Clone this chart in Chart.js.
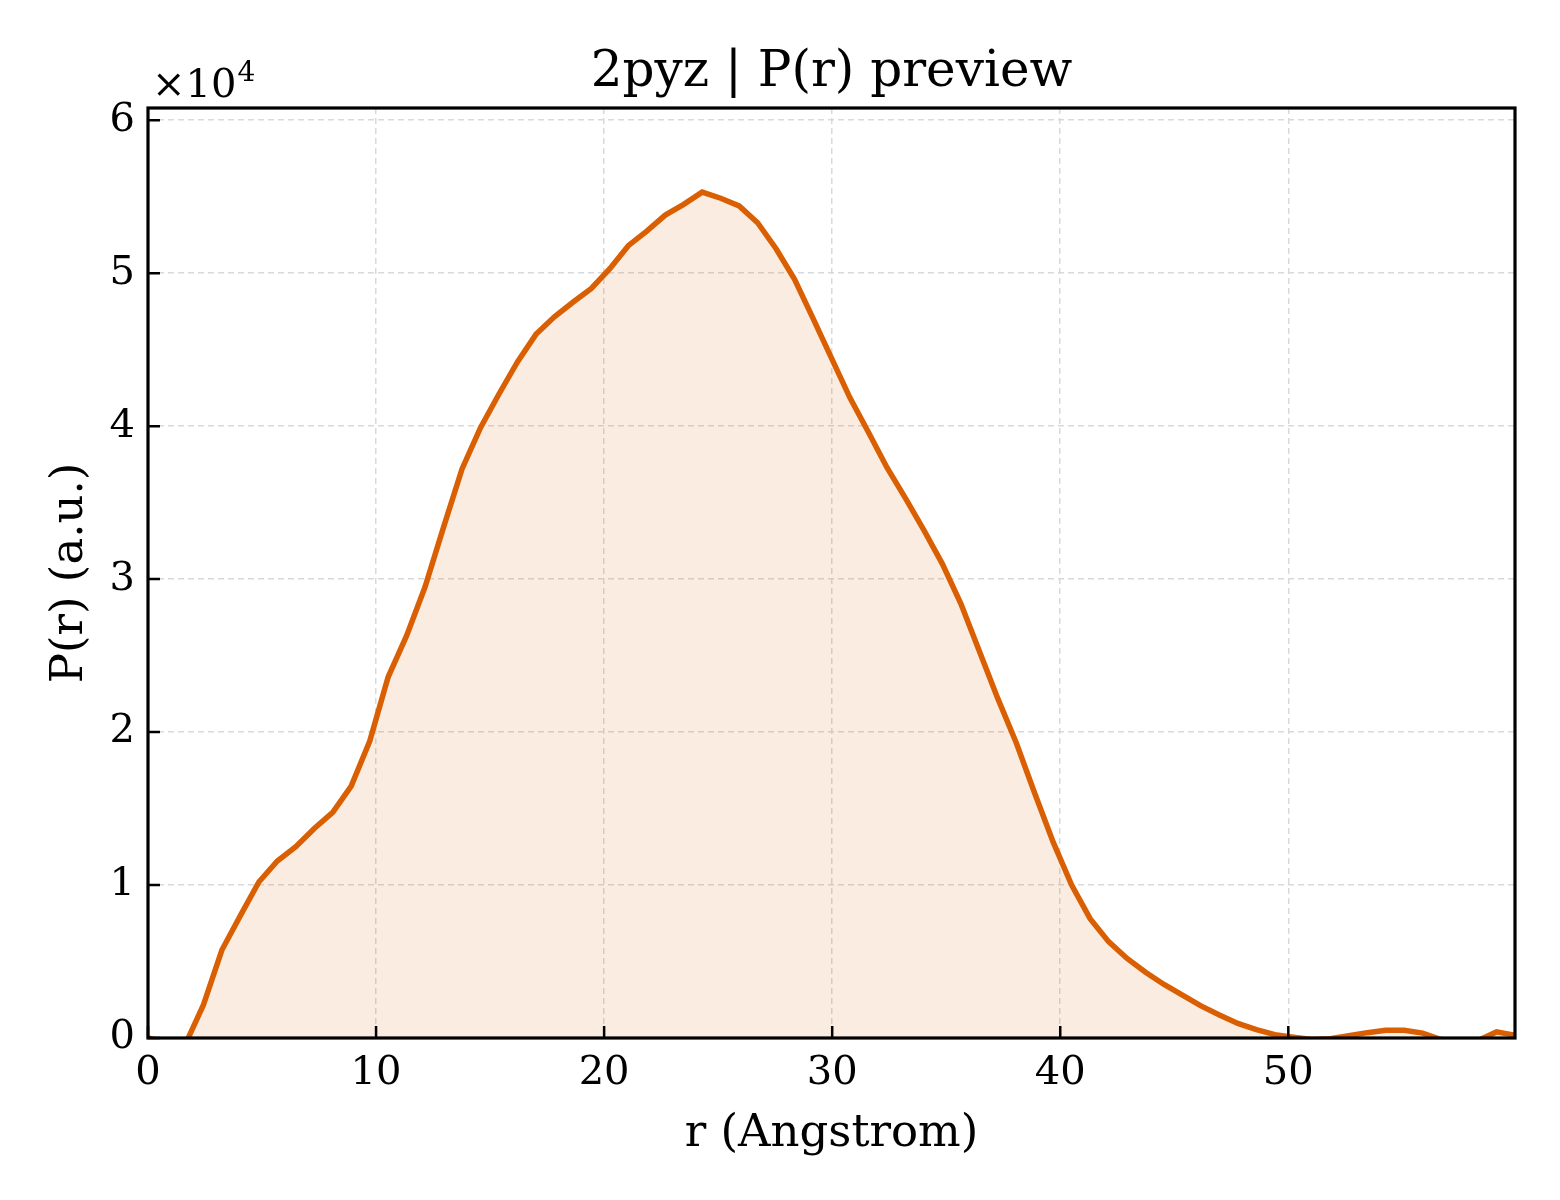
<!DOCTYPE html>
<html>
<head>
<meta charset="utf-8">
<title>2pyz | P(r) preview</title>
<script src="https://cdn.jsdelivr.net/npm/chart.js@4.4.1/dist/chart.umd.min.js"></script>
<style>
  html, body { margin: 0; padding: 0; background: #fff; }
  canvas { display: block; }
</style>
</head>
<body>
<canvas id="prChart" width="1560" height="1200"></canvas>
<script>
// r grid (Angstrom)
const rValues = [
  0.00, 0.81, 1.62, 2.43, 3.24, 4.05, 4.86, 5.67, 6.48, 7.29,
  8.10, 8.91, 9.72, 10.53, 11.34, 12.15, 12.96, 13.77, 14.58, 15.39,
  16.20, 17.01, 17.82, 18.63, 19.44, 20.25, 21.06, 21.87, 22.68, 23.49,
  24.30, 25.11, 25.92, 26.73, 27.54, 28.35, 29.16, 29.97, 30.78, 31.59,
  32.40, 33.21, 34.02, 34.83, 35.64, 36.45, 37.26, 38.07, 38.88, 39.69,
  40.50, 41.31, 42.12, 42.93, 43.74, 44.55, 45.36, 46.17, 46.98, 47.79,
  48.60, 49.41, 50.22, 51.03, 51.84, 52.65, 53.46, 54.27, 55.08, 55.89,
  56.70, 57.51, 58.32, 59.13, 59.94
];

// P(r) in a.u.
const pValues = [
  0, -300, -470, 2160, 5750, 8000, 10200, 11570, 12500, 13700,
  14750, 16470, 19400, 23600, 26300, 29500, 33400, 37200, 39900, 42100,
  44200, 46000, 47150, 48100, 49000, 50300, 51800, 52750, 53800, 54500,
  55300, 54900, 54400, 53300, 51600, 49600, 47050, 44450, 41850, 39600,
  37300, 35300, 33200, 31000, 28400, 25300, 22200, 19300, 16000, 12800,
  10000, 7800, 6300, 5200, 4300, 3500, 2800, 2100, 1500, 950,
  550, 220, 50, -100, -50, 150, 350, 500, 500, 320,
  -100, -300, -160, 400, 180
];

const xTicks = [0, 10, 20, 30, 40, 50];
const yTicks = [0, 10000, 20000, 30000, 40000, 50000, 60000];

const lineColor = '#d95f02';
const serif = '"DejaVu Serif", "Liberation Serif", serif';

const points = rValues.map((r, i) => ({ x: r, y: pValues[i] }));

// frame, inward ticks, title and axis labels
const decorPlugin = {
  id: 'decor',
  afterDraw(chart) {
    const { ctx, chartArea: a, scales: { x, y } } = chart;
    ctx.save();

    ctx.strokeStyle = '#000';
    ctx.lineWidth = 2.5;
    ctx.beginPath();
    xTicks.forEach(v => {
      const px = x.getPixelForValue(v);
      ctx.moveTo(px, a.bottom);
      ctx.lineTo(px, a.bottom - 12);
    });
    yTicks.forEach(v => {
      const py = y.getPixelForValue(v);
      ctx.moveTo(a.left, py);
      ctx.lineTo(a.left + 12, py);
    });
    ctx.stroke();

    ctx.lineWidth = 3.2;
    ctx.strokeRect(a.left, a.top, a.right - a.left, a.bottom - a.top);

    ctx.fillStyle = '#000';
    ctx.textAlign = 'center';
    ctx.textBaseline = 'alphabetic';
    ctx.font = '50px ' + serif;
    ctx.fillText('2pyz | P(r) preview', (a.left + a.right) / 2, 86);

    ctx.font = '45px ' + serif;
    ctx.fillText('r (Angstrom)', (a.left + a.right) / 2, 1146);

    ctx.save();
    ctx.translate(82, (a.top + a.bottom) / 2);
    ctx.rotate(-Math.PI / 2);
    ctx.fillText('P(r) (a.u.)', 0, 0);
    ctx.restore();

    // offset text for y axis
    ctx.textAlign = 'left';
    ctx.font = '40px ' + serif;
    ctx.fillText('\u00d710', 152, 97);
    const w = ctx.measureText('\u00d710').width;
    ctx.font = '28px ' + serif;
    ctx.fillText('4', 152 + w + 1, 81);

    ctx.restore();
  }
};

const gridStyle = {
  color: '#d9d9d9',
  lineWidth: 1.5,
  drawTicks: false
};

new Chart(document.getElementById('prChart'), {
  type: 'line',
  data: {
    datasets: [{
      label: 'P(r)',
      data: points,
      borderColor: lineColor,
      backgroundColor: 'rgba(217, 95, 2, 0.12)',
      borderWidth: 5.5,
      fill: 'origin',
      pointRadius: 0,
      tension: 0,
      clip: 0
    }]
  },
  options: {
    responsive: false,
    devicePixelRatio: 1,
    animation: false,
    layout: { padding: { left: 0, right: 45, top: 108, bottom: 0 } },
    plugins: {
      legend: { display: false },
      title: { display: false },
      tooltip: { enabled: false }
    },
    scales: {
      x: {
        type: 'linear',
        min: 0,
        max: 59.94,
        grid: gridStyle,
        border: { display: false, dash: [6, 4] },
        afterBuildTicks: (scale) => { scale.ticks = xTicks.map(v => ({ value: v })); },
        afterFit: (scale) => { scale.height = 162; },
        ticks: {
          padding: 12,
          color: '#000',
          font: { family: serif, size: 40 },
          maxRotation: 0,
          callback: (v) => String(v)
        }
      },
      y: {
        type: 'linear',
        min: 0,
        max: 60800,
        grid: gridStyle,
        border: { display: false, dash: [6, 4] },
        afterBuildTicks: (scale) => { scale.ticks = yTicks.map(v => ({ value: v })); },
        afterFit: (scale) => { scale.width = 148; },
        ticks: {
          padding: 13,
          color: '#000',
          font: { family: serif, size: 40 },
          callback: (v) => String(v / 10000)
        }
      }
    }
  },
  plugins: [decorPlugin]
});
</script>
</body>
</html>
